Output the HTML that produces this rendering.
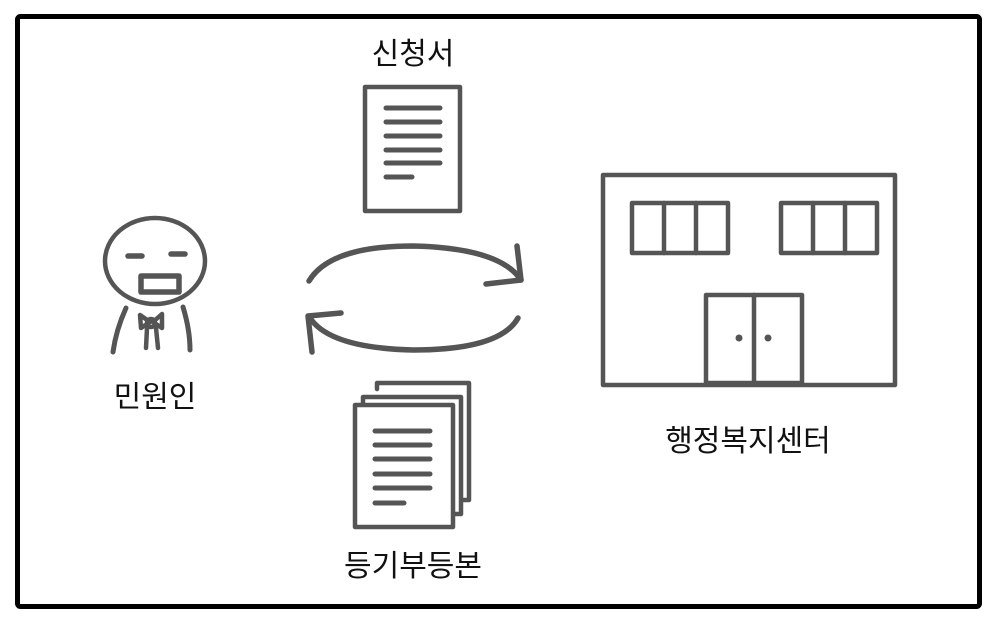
<!DOCTYPE html>
<html><head><meta charset="utf-8"><style>
html,body{margin:0;padding:0;background:#fff;width:996px;height:624px;overflow:hidden}
text{font-family:"Liberation Sans","Noto Sans CJK KR","NanumGothic",sans-serif;fill:#111}
</style></head><body>
<svg width="996" height="624" viewBox="0 0 996 624" xmlns="http://www.w3.org/2000/svg">
<rect x="17.5" y="16.5" width="962" height="590" rx="3" fill="#fff" stroke="#000" stroke-width="5"/>
<g fill="none" stroke="#555" stroke-width="4.5" stroke-linecap="round" stroke-linejoin="round">
<!-- doc 1 -->
<rect x="365" y="87" width="95" height="124"/>
<g stroke-width="5">
<line x1="386" y1="108" x2="440" y2="108"/><line x1="386" y1="122" x2="440" y2="122"/>
<line x1="386" y1="136" x2="440" y2="136"/><line x1="386" y1="150" x2="440" y2="150"/>
<line x1="386" y1="163" x2="440" y2="163"/><line x1="386" y1="177" x2="412" y2="177"/>
</g>
<!-- stack -->
<path d="M377 389 V383 H469 V500 H463"/>
<path d="M363 403 V397 H461 V514 H455"/>
<rect x="355" y="405" width="98" height="122" fill="#fff"/>
<g stroke-width="5">
<line x1="375" y1="431" x2="430" y2="431"/><line x1="375" y1="445" x2="430" y2="445"/>
<line x1="375" y1="459" x2="430" y2="459"/><line x1="375" y1="474" x2="430" y2="474"/>
<line x1="375" y1="488" x2="430" y2="488"/><line x1="375" y1="503" x2="404" y2="503"/>
</g>
<!-- person -->
<ellipse cx="155" cy="261" rx="50" ry="43"/>
<g stroke-width="5.5"><line x1="128" y1="256" x2="142" y2="256"/><line x1="171" y1="254" x2="185" y2="254"/></g>
<rect x="141" y="276" width="38" height="16" stroke-width="5.5"/>
<path d="M126 308 Q116 330 113 352" stroke-width="5"/>
<path d="M183 307 Q190 330 190 350" stroke-width="5"/>
<path d="M140 315 L150 322 L141 328 Z M162 314 L153 322 L162 328 Z"/>
<circle cx="151" cy="323" r="4"/>
<path d="M146 348 L147 328 M156 328 L158 348"/>
<!-- arrows -->
<path d="M309 281 Q330 246 413 246 Q500 248 521 280" stroke-width="5.5"/>
<path d="M517 246 L521 280 L486 284" stroke-width="5.5"/>
<path d="M518 318 Q500 350 413 350 Q330 348 310 318" stroke-width="5.5"/>
<path d="M341 313 L308 316 L312 352" stroke-width="5.5"/>
<!-- building -->
<rect x="603" y="175" width="292" height="210"/>
<rect x="632" y="203" width="96" height="50"/><line x1="664" y1="203" x2="664" y2="253"/><line x1="696" y1="203" x2="696" y2="253"/>
<rect x="781" y="203" width="96" height="50"/><line x1="813" y1="203" x2="813" y2="253"/><line x1="845" y1="203" x2="845" y2="253"/>
<rect x="706" y="295" width="96" height="88"/><line x1="754" y1="295" x2="754" y2="383"/>
</g>
<circle cx="739" cy="338" r="3.5" fill="#555"/><circle cx="768" cy="338" r="3.5" fill="#555"/>
<g font-size="30" text-anchor="middle">
<text x="413" y="64">신청서</text>
<text x="155" y="407">민원인</text>
<text x="748" y="451">행정복지센터</text>
<text x="413" y="576">등기부등본</text>
</g>
</svg>
</body></html>
